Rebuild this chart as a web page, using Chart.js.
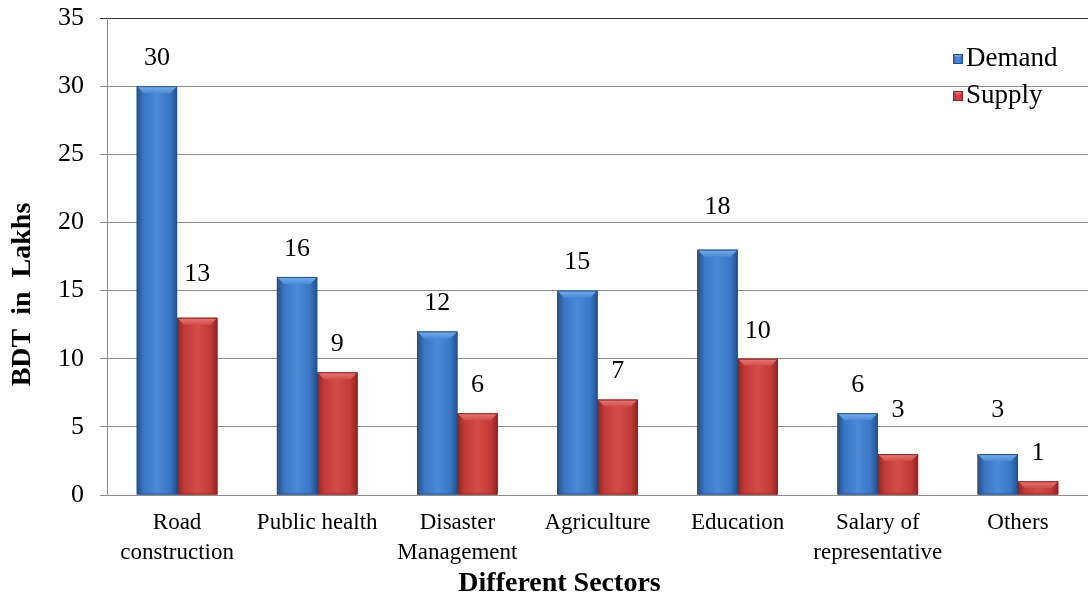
<!DOCTYPE html>
<html>
<head>
<meta charset="utf-8">
<title>Demand and Supply by Sector</title>
<script src="https://cdn.jsdelivr.net/npm/chart.js@4.4.1/dist/chart.umd.min.js"></script>
<style>
  html, body { margin: 0; padding: 0; background: #fff; }
  #wrap { width: 1088px; height: 599px; position: relative; }
</style>
</head>
<body>
<div id="wrap"><canvas id="chart"></canvas></div>
<script>
// ----- data -----
const sectors = [
  ['Road', 'construction'],
  'Public health',
  ['Disaster', 'Management'],
  'Agriculture',
  'Education',
  ['Salary of', 'representative'],
  'Others'
];
const demand = [30, 16, 12, 15, 18, 6, 3];
const supply = [13, 9, 6, 7, 10, 3, 1];
const yTicks = [0, 5, 10, 15, 20, 25, 30, 35];

const xTitle = 'Different Sectors';
const yTitle = 'BDT  in  Lakhs';

// extra lift of a few value labels (they sit higher in the original)
const demandLabelLift = [0, 0, 0, 0, 15, 0, 16];
const supplyLabelLift = [16, 0, 0, 0, 0, 16, 0];

const SERIF = '"Liberation Serif", "Times New Roman", serif';

// shading for each series: edge, mid, light, bevel
const shades = {
  Demand: { edge: '#24508a', mid: '#3a76c4', light: '#4b8ad8', bevel: '#7ab0ea' },
  Supply: { edge: '#8a2624', mid: '#c23b38', light: '#d44b47', bevel: '#e67d79' }
};

function shadeBar(ctx, left, top, w, h, s) {
  if (h <= 0) return;
  const g = ctx.createLinearGradient(left, 0, left + w, 0);
  g.addColorStop(0, s.edge);
  g.addColorStop(0.18, s.mid);
  g.addColorStop(0.5, s.light);
  g.addColorStop(0.82, s.mid);
  g.addColorStop(1, s.edge);
  ctx.fillStyle = g;
  ctx.fillRect(left, top, w, h);
  // top bevel
  const b = Math.min(7, h / 2);
  const gb = ctx.createLinearGradient(0, top, 0, top + b);
  gb.addColorStop(0, s.bevel);
  gb.addColorStop(1, s.light);
  ctx.fillStyle = gb;
  ctx.beginPath();
  ctx.moveTo(left, top);
  ctx.lineTo(left + w, top);
  ctx.lineTo(left + w - b, top + b);
  ctx.lineTo(left + b, top + b);
  ctx.closePath();
  ctx.fill();
  // outline
  ctx.strokeStyle = s.edge;
  ctx.lineWidth = 1;
  ctx.strokeRect(left + 0.5, top + 0.5, w - 1, h - 1);
}

const barLook = {
  id: 'barLook',
  afterDatasetsDraw(chart) {
    const ctx = chart.ctx;
    ctx.save();
    chart.data.datasets.forEach((ds, i) => {
      const meta = chart.getDatasetMeta(i);
      const s = shades[ds.label];
      const lifts = ds.label === 'Demand' ? demandLabelLift : supplyLabelLift;
      meta.data.forEach((bar, j) => {
        const p = bar.getProps(['x', 'y', 'base', 'width'], true);
        shadeBar(ctx, p.x - p.width / 2, p.y, p.width, p.base - p.y, s);
        // value label
        ctx.fillStyle = '#000';
        ctx.font = '26px ' + SERIF;
        ctx.textAlign = 'center';
        ctx.textBaseline = 'middle';
        ctx.fillText(String(ds.data[j]), p.x, p.y - 28 - lifts[j]);
      });
    });
    ctx.restore();
  }
};

// legend inside the plot (top right) and the two axis titles
const extras = {
  id: 'extras',
  afterDraw(chart) {
    const ctx = chart.ctx;
    const area = chart.chartArea;
    ctx.save();
    ctx.font = '27px ' + SERIF;
    ctx.textBaseline = 'middle';
    ctx.textAlign = 'left';
    chart.data.datasets.forEach((ds, i) => {
      const x = area.right - 135;
      const y = area.top + 41 + i * 37;
      shadeBar(ctx, x, y - 5, 10, 10, shades[ds.label]);
      ctx.fillStyle = '#000';
      ctx.fillText(ds.label, x + 13, y);
    });

    ctx.font = 'bold 28px ' + SERIF;
    ctx.textAlign = 'center';
    ctx.fillText(xTitle, (area.left + area.right) / 2 - 38, 584);
    ctx.translate(23, (area.top + area.bottom) / 2 + 38);
    ctx.rotate(-Math.PI / 2);
    ctx.fillText(yTitle, 0, 0);
    ctx.restore();
  }
};

new Chart(document.getElementById('chart'), {
  type: 'bar',
  data: {
    labels: sectors,
    datasets: [
      { label: 'Demand', data: demand, backgroundColor: '#3a76c4', borderWidth: 0,
        categoryPercentage: 0.575, barPercentage: 1 },
      { label: 'Supply', data: supply, backgroundColor: '#c23b38', borderWidth: 0,
        categoryPercentage: 0.575, barPercentage: 1 }
    ]
  },
  options: {
    responsive: true,
    maintainAspectRatio: false,
    animation: false,
    layout: { padding: { top: 18, right: 0, left: 0, bottom: 0 } },
    plugins: {
      legend: { display: false },
      tooltip: { enabled: false }
    },
    scales: {
      x: {
        afterFit(scale) { scale.height = 104; },
        grid: { display: false },
        border: { display: true, color: '#8c8c8c', width: 1 },
        ticks: {
          color: '#000',
          font: { family: SERIF, size: 23, lineHeight: 1.3 },
          padding: 5,
          maxRotation: 0,
          autoSkip: false
        }
      },
      y: {
        min: 0,
        max: 35,
        afterFit(scale) {
          scale.width = 107;
          // the label gap should not push the plot top down
          scale.paddingTop = 10;
          scale.paddingBottom = 0;
        },
        afterBuildTicks(scale) { scale.ticks = yTicks.map(v => ({ value: v })); },
        grid: {
          color: ctx => (ctx.tick && ctx.tick.value === 35 ? '#333' : '#8c8c8c'),
          lineWidth: 1,
          tickLength: 7
        },
        border: { display: true, color: '#8c8c8c', width: 1 },
        ticks: {
          color: '#000',
          font: { family: SERIF, size: 26 },
          padding: 16
        }
      }
    }
  },
  plugins: [barLook, extras]
});
</script>
</body>
</html>
